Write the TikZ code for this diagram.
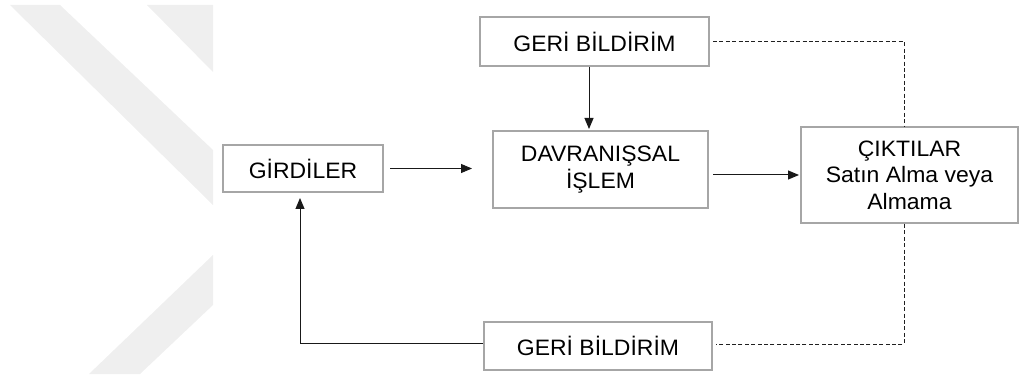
\documentclass[tikz,border=0pt]{standalone}
\usepackage{fontspec}
\setmainfont{Liberation Sans}[FakeStretch=1.03]
\usetikzlibrary{arrows.meta}
\definecolor{boxline}{HTML}{A6A6A6}
\definecolor{wmark}{HTML}{EFEFEF}
\definecolor{dashline}{HTML}{202020}
\tikzset{
  stage/.style={draw=boxline, line width=2pt, fill=white, align=center,
    inner sep=0pt, font=\fontsize{22.3}{26.5}\selectfont},
  arr/.style={line width=1pt, draw=black!90, -{Triangle[length=11pt,width=9pt]}},
  dsh/.style={draw=dashline, line width=0.9pt, dash pattern=on 4pt off 2.4pt},
}
\begin{document}
\begin{tikzpicture}[x=1pt,y=-1pt]
\useasboundingbox (0,0) rectangle (1021,377);

% light chevron in the left margin
\fill[wmark] (10,5) -- (60,5) -- (213,150) -- (213,205) -- cycle;
\fill[wmark] (147,5) -- (213,5) -- (213,72) -- cycle;
\fill[wmark] (213,255) -- (213,305) -- (140,374) -- (89,374) -- cycle;

% stages
\node[stage, minimum width=229pt, minimum height=49pt] (fbtop) at (594.5,41.5) {GERİ BİLDİRİM};
\node[stage, minimum width=215pt, minimum height=77pt] (dav) at (600.5,169.5) {DAVRANIŞSAL\\İŞLEM};
\node[stage, minimum width=160pt, minimum height=47pt] (gir) at (303,168.5) {GİRDİLER};
\node[stage, minimum width=217pt, minimum height=96pt] (cik) at (909.5,175) {ÇIKTILAR\\Satın Alma veya\\Almama};
\node[stage, minimum width=228pt, minimum height=48pt] (fbbot) at (598,346) {GERİ BİLDİRİM};

% main flow
\draw[arr] ([xshift=-5.5pt]fbtop.south) -- ([xshift=-5.5pt,yshift=1pt]fbtop.south |- dav.north);
\draw[arr] ([xshift=6pt]gir.east) -- ([xshift=-20pt]gir.east -| dav.west);
\draw[arr] ([xshift=4pt]cik.west -| dav.east) -- ([xshift=-1pt]cik.west);

% feedback to the inputs
\draw[arr] ([yshift=3pt]fbbot.west) -| ([xshift=-3pt,yshift=-5pt]gir.south);

% dashed links from the outputs
\draw[dsh] ([xshift=3pt]fbtop.east) -| ([xshift=-5.5pt]cik.north);
\draw[dsh] ([xshift=-5.5pt]cik.south) |- ([xshift=3pt,yshift=2pt]fbbot.east);
\end{tikzpicture}
\end{document}
